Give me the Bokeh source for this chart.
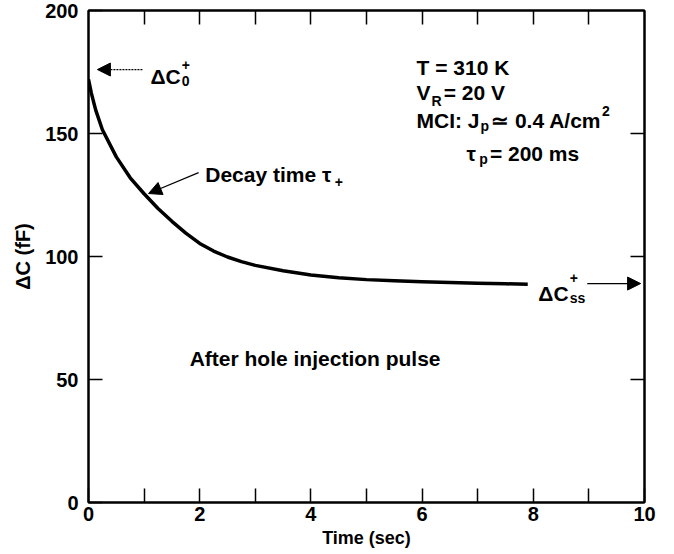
from bokeh.plotting import figure
from bokeh.models import (Label, Arrow, NormalHead, FixedTicker, Range1d, ColumnDataSource,
                          LinearAxis, CustomLabelingPolicy)
from bokeh.embed import file_html
from bokeh.resources import INLINE

# ---- data ----
time_s = [0.0, 0.05, 0.13, 0.25, 0.5, 0.75, 1.0, 1.25, 1.5, 1.75, 2.0, 2.25, 2.5,
          2.75, 3.0, 3.5, 4.0, 4.5, 5.0, 5.5, 6.0, 6.5, 7.0, 7.5, 7.9]
delta_c_ff = [172, 166.5, 159.5, 151.5, 140.5, 132, 125.5, 119.5, 114.3, 109.5, 105.3,
              102.2, 99.8, 97.9, 96.4, 94.2, 92.5, 91.4, 90.6, 90.1, 89.7, 89.4, 89.1,
              88.9, 88.7]

x_label_ticks = [0, 2, 4, 6, 8, 10]
x_minor_ticks = [1, 3, 5, 7, 9]
x_top_ticks = [1, 2, 3, 4, 5, 6, 7, 8, 9]
y_ticks = [0, 50, 100, 150, 200]
y_right_ticks = [50, 100, 150]

FONT = "Liberation Sans"
X0, X1, Y0, Y1 = 0, 10, 0, 200
TICK_PX = 14

p = figure(width=674, height=554, output_backend="svg", toolbar_location=None,
           x_range=Range1d(X0, X1), y_range=Range1d(Y0, Y1),
           min_border_left=88, min_border_right=30, min_border_top=10, min_border_bottom=52)
p.grid.visible = False
p.outline_line_color = "black"
p.outline_line_width = 2
p.background_fill_color = "white"
p.border_fill_color = "white"

src = ColumnDataSource(dict(t=time_s, c=delta_c_ff))
p.line("t", "c", source=src, line_color="black", line_width=3.5, line_join="round")

def style_axis(ax):
    ax.axis_line_color = "black"
    ax.axis_line_width = 2
    ax.major_tick_in = TICK_PX
    ax.major_tick_out = 0
    ax.minor_tick_in = TICK_PX
    ax.minor_tick_out = 0
    ax.major_tick_line_width = 1.5
    ax.minor_tick_line_width = 1.5
    ax.major_label_text_font = FONT
    ax.major_label_text_font_style = "bold"
    ax.major_label_text_font_size = "20px"
    ax.major_label_text_color = "black"
    ax.axis_label_text_font = FONT
    ax.axis_label_text_font_style = "bold"
    ax.axis_label_text_color = "black"

xa = p.xaxis[0]
xa.ticker = FixedTicker(ticks=x_label_ticks, minor_ticks=x_minor_ticks)
style_axis(xa)
xa.axis_label = "Time (sec)"
xa.axis_label_text_font_size = "18px"
xa.major_label_standoff = 4
xa.axis_label_standoff = 4

ya = p.yaxis[0]
ya.ticker = FixedTicker(ticks=y_ticks, minor_ticks=[])
style_axis(ya)
ya.axis_label = "ΔC (fF)"
ya.axis_label_text_font_size = "20px"
ya.major_label_standoff = 10
ya.axis_label_standoff = 8

# top and right axes: inward ticks only, every tick label filtered out
def no_labels():
    return CustomLabelingPolicy(code="""
        for (const i of Array.from(indices)) { indices.unset(i) }
        return indices
    """)

top = LinearAxis(ticker=FixedTicker(ticks=x_top_ticks, minor_ticks=[]))
style_axis(top)
top.major_label_text_font_size = "1px"
top.major_label_standoff = 0
top.major_label_policy = no_labels()
p.add_layout(top, "above")

right = LinearAxis(ticker=FixedTicker(ticks=y_right_ticks, minor_ticks=[]))
style_axis(right)
right.major_label_text_font_size = "1px"
right.major_label_standoff = 0
right.major_label_policy = no_labels()
p.add_layout(right, "right")

# approximate Liberation Sans Bold advance widths (per 1000 em)
W = {' ': 278, 'A': 722, 'C': 722, 'D': 722, 'I': 278, 'J': 556, 'K': 722, 'M': 833,
     'R': 722, 'T': 611, 'V': 667, 'a': 556, 'c': 556, 'e': 556, 'i': 278, 'm': 889,
     's': 556, 't': 333, 'y': 556, 'p': 611, '/': 278, ':': 333, '.': 278, '=': 584,
     '+': 584, 'Δ': 722, 'τ': 560, '≃': 838}

def width(s, size):
    return sum(W.get(ch, 556) for ch in s) * size / 1000.0

def label(x, y, s, size, xoff=0.0):
    p.add_layout(Label(x=x, y=y, x_offset=xoff, text=s, text_font=FONT,
                       text_font_style="bold", text_font_size=f"{size}px",
                       text_color="black", text_baseline="alphabetic", text_align="left"))

BIG, SMALL = 21, 14

def rich(x, y, pieces):
    off = 0.0
    for item in pieces:
        kind = item[1]
        if kind == "n":
            label(x, y, item[0], BIG, off)
            off += width(item[0], BIG)
        elif kind == "b":
            label(x, y - item[2], item[0], SMALL, off + 1)
            off += width(item[0], SMALL) + 3
        elif kind == "p":
            label(x, y + item[2], item[0], SMALL, off + 1)
            off += width(item[0], SMALL) + 3
        elif kind == "bp":
            sub, sup, dsub, dsup = item[0], item[2], item[3], item[4]
            label(x, y - dsub, sub, SMALL, off + 1)
            label(x, y + dsup, sup, SMALL, off + 1)
            off += max(width(sub, SMALL), width(sup, SMALL)) + 3

def arrow(xa0, ya0, xa1, ya1, dash="solid"):
    p.add_layout(Arrow(x_start=xa0, y_start=ya0, x_end=xa1, y_end=ya1,
                       line_color="black", line_width=1.2, line_dash=dash,
                       end=NormalHead(size=13, fill_color="black", line_color="black")))

# ΔC0+
rich(1.115, 173.2, [("ΔC", "n"), ("0", "bp", "+", 1.8, 4.6)])
arrow(0.97, 176, 0.16, 176, dash="2 1")

# Decay time τ+
rich(2.10, 133.3, [("Decay time τ", "n"), ("+", "b", 3.0)])
arrow(1.98, 134.1, 1.08, 125.6)

# After hole injection pulse
rich(1.82, 58.5, [("After hole injection pulse", "n")])

# Parameter block
rich(5.9, 176.8, [("T = 310 K", "n")])
rich(5.9, 166.7, [("V", "n"), ("R", "b", 3.3), ("= 20 V", "n")])
rich(5.9, 155.3, [("MCI: J", "n"), ("p", "b", 2.3), ("≃ 0.4 A/cm", "n"), ("2", "p", 4.0)])
rich(6.8, 141.9, [("τ", "n"), ("p", "b", 2.3), ("= 200 ms", "n")])

# ΔCss+
rich(8.09, 85.0, [("ΔC", "n"), ("ss", "bp", "+", 1.8, 6.2)])
arrow(8.97, 89, 9.93, 89)

open("out.html", "w").write(file_html(p, INLINE))
